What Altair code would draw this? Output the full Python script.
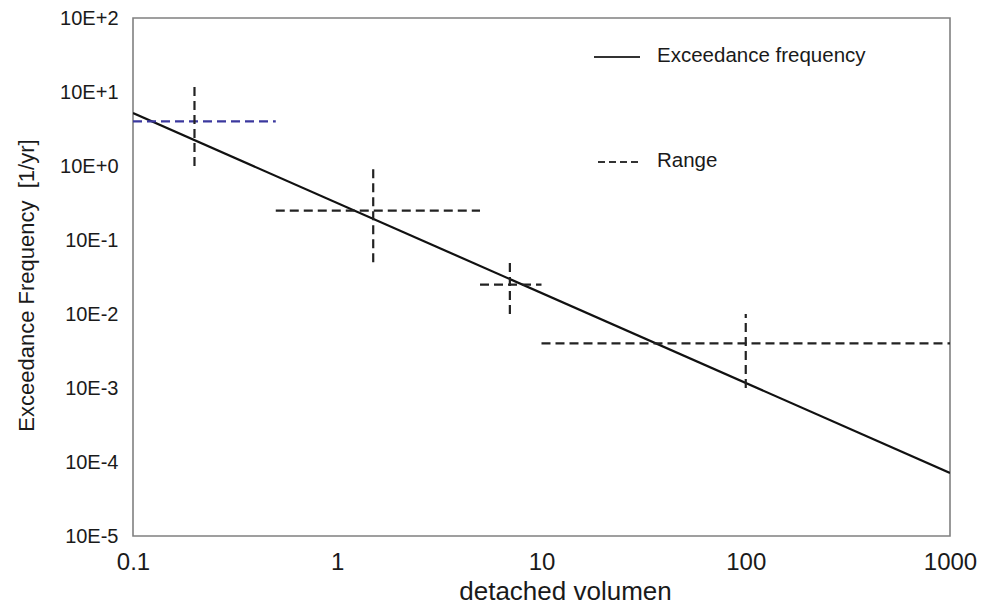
import json
import altair as alt
import pandas as pd

# ---- data ----
freq_x = [0.1, 1000]
freq_y = [5.2, 7.1e-5]

range_x_start = [0.1, 0.5, 5, 10]
range_x_end = [0.5, 5, 10, 1000]
range_y_level = [4, 0.25, 0.025, 0.004]

range_x_center = [0.2, 1.5, 7, 100]
range_y_low = [1, 0.05, 0.01, 0.001]
range_y_high = [12, 1, 0.05, 0.01]

x_tick_values = [0.1, 1, 10, 100, 1000]
x_tick_labels = ["0.1", "1", "10", "100", "1000"]
y_tick_values = [1e-5, 1e-4, 1e-3, 1e-2, 1e-1, 1, 10, 100]
y_tick_labels = ["10E-5", "10E-4", "10E-3", "10E-2", "10E-1", "10E+0", "10E+1", "10E+2"]

legend_labels = ["Exceedance frequency", "Range"]

FONT = "Liberation Sans"
DASH = [9, 5]

freq_df = pd.DataFrame({"x": freq_x, "y": freq_y})
hor_df = pd.DataFrame({"seg": list(range(len(range_x_start))),
                       "x1": range_x_start, "x2": range_x_end, "y": range_y_level})
ver_df = pd.DataFrame({"x": range_x_center, "y1": range_y_low, "y2": range_y_high})

x_label_expr = f"{json.dumps(x_tick_labels)}[round(log(datum.value)/LN10)+1]"
y_label_expr = f"{json.dumps(y_tick_labels)}[round(log(datum.value)/LN10)+5]"

x_scale = alt.Scale(type="log", domain=[0.1, 1000], nice=False)
y_scale = alt.Scale(type="log", domain=[1e-5, 100], nice=False)

x_axis = alt.Axis(title="detached volumen", values=x_tick_values, labelExpr=x_label_expr,
                  grid=False, ticks=False, domain=False, labelFlush=False, labelOverlap=False,
                  labelFontSize=24, labelPadding=14, labelColor="#1a1a1a",
                  titleFontSize=26, titleFontWeight="normal", titleColor="#1a1a1a",
                  titleX=432, titleY=63, titleBaseline="alphabetic", titleAnchor="middle")
y_axis = alt.Axis(title="Exceedance Frequency\u00a0\u00a0[1/yr]", values=y_tick_values,
                  labelExpr=y_label_expr,
                  grid=False, ticks=False, domain=False, labelFlush=False, labelOverlap=False,
                  labelFontSize=20, labelPadding=15, labelColor="#1a1a1a",
                  titleFontSize=22, titleFontWeight="normal", titleColor="#1a1a1a",
                  titleX=-100, titleY=267, titleAngle=270, titleAlign="center",
                  titleBaseline="alphabetic")

freq_line = alt.Chart(freq_df).mark_line(color="#111111", strokeWidth=2.2, clip=True).encode(
    x=alt.X("x:Q", scale=x_scale, axis=x_axis),
    y=alt.Y("y:Q", scale=y_scale, axis=y_axis),
)

hor_rules = alt.Chart(hor_df).mark_rule(strokeWidth=2.2, strokeDash=DASH, clip=True).encode(
    x=alt.X("x1:Q", scale=x_scale),
    x2="x2:Q",
    y=alt.Y("y:Q", scale=y_scale),
    color=alt.condition("datum.seg == 0", alt.value("#3b389e"), alt.value("#222222")),
)

ver_rules = alt.Chart(ver_df).mark_rule(strokeWidth=2.2, strokeDash=DASH, color="#222222", clip=True).encode(
    x=alt.X("x:Q", scale=x_scale),
    y=alt.Y("y1:Q", scale=y_scale),
    y2="y2:Q",
)

one = alt.Data(values=[{}])
leg_solid = alt.Chart(one).mark_rule(color="#333333", strokeWidth=2).encode(
    x=alt.value(461), x2=alt.value(507), y=alt.value(39))
leg_dash = alt.Chart(one).mark_rule(color="#333333", strokeWidth=2, strokeDash=[7, 4]).encode(
    x=alt.value(465), x2=alt.value(508), y=alt.value(144))
leg_text1 = alt.Chart(one).mark_text(align="left", baseline="middle", fontSize=20.5, font=FONT,
                                     color="#1a1a1a").encode(
    x=alt.value(524), y=alt.value(38), text=alt.value(legend_labels[0]))
leg_text2 = alt.Chart(one).mark_text(align="left", baseline="middle", fontSize=20.5, font=FONT,
                                     color="#1a1a1a").encode(
    x=alt.value(524), y=alt.value(143), text=alt.value(legend_labels[1]))

chart = alt.layer(freq_line, hor_rules, ver_rules, leg_solid, leg_dash, leg_text1, leg_text2).properties(
    width=817, height=518,
    autosize=alt.AutoSizeParams(type="none"),
    padding={"left": 125, "top": 10, "right": 30, "bottom": 68},
    background="white",
).configure(font=FONT).configure_view(stroke="#808080", strokeWidth=1.6)

chart.save("out.html", embed_options={"renderer": "svg", "actions": False})
